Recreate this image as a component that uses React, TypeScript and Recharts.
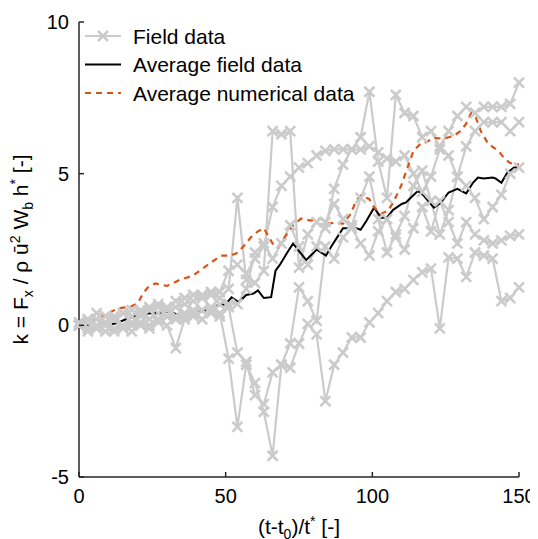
import { LineChart, Line, XAxis, YAxis } from 'recharts';

const FONT = '"Liberation Sans", Arial, sans-serif';
const AXIS = '#262626';
const GREY = '#cbcbcb';
const ORANGE = '#d95319';

// field measurements, sampled every 3 time units
const timeGrid = [
  0, 3, 6, 9, 12, 15, 18, 21, 24, 27, 30, 33, 36, 39, 42, 45, 48, 51, 54, 57, 60,
  63, 66, 69, 72, 75, 78, 81, 84, 87, 90, 93, 96, 99, 102, 105, 108, 111, 114, 117, 120,
  123, 126, 129, 132, 135, 138, 141, 144, 147, 150,
];
const fieldA = [
  0.0, 0.1, 0.2, 0.1, 0.3, 0.4, 0.3, 0.5, 0.5, 0.6, 0.5, 0.6, 0.7, 0.8, 0.9, 1.0, 0.9, 1.2, 4.2, 1.5, 1.4,
  1.8, 6.4, 6.3, 6.4, 1.9, 3.0, 3.4, 3.2, 4.5, 5.3, 5.8, 6.2, 7.7, 5.4, 4.2, 7.6, 7.0, 6.9, 6.2, 6.4,
  5.9, 6.4, 6.9, 7.2, 7.0, 7.2, 7.2, 7.2, 7.3, 8.0,
];
const fieldB = [
  0.1, 0.2, 0.4, 0.3, 0.2, 0.4, 0.5, 0.4, 0.6, 0.7, 0.6, 0.8, 0.9, 1.0, 1.0, 1.1, 1.1, 1.8, 2.0, 1.7, 2.2,
  2.6, 3.9, 4.6, 4.9, 5.2, 5.35, 5.6, 5.75, 5.8, 5.8, 5.8, 5.8, 5.9, 5.7, 5.5, 5.4, 5.6, 5.0, 4.4, 4.9,
  5.8, 5.6, 4.9, 5.9, 6.4, 6.7, 6.7, 6.7, 6.4, 6.7,
];
const fieldC = [
  0.0, -0.1, 0.0, 0.1, 0.2, 0.0, 0.1, 0.3, 0.2, 0.4, 0.3, 0.3, 0.4, 0.5, 0.5, 0.6, 0.7, 0.7, 0.7, 1.2, 2.4,
  2.7, 2.2, 2.7, 3.3, 2.6, 2.0, 2.6, 3.4, 4.0, 3.5, 3.3, 4.2, 4.9, 3.5, 2.4, 3.0, 3.6, 4.6, 5.1, 4.1,
  3.0, 3.8, 4.9, 4.6, 4.2, 3.5, 3.9, 4.3, 5.0, 5.2,
];
const fieldD = [
  0.0, -0.2, -0.1, 0.0, -0.2, -0.1, 0.0, 0.1, 0.0, 0.2, 0.3, 0.2, 0.3, 0.4, 0.5, 0.5, 0.4, -1.1, -3.35, -1.3, -1.9,
  -2.85, -4.3, -1.3, -0.6, 1.25, 0.8, 0.15, 2.6, 2.2, 2.9, 3.2, 2.7, 2.3, 3.1, 3.5, 2.9, 2.5, 3.2, 3.9, 3.1,
  4.1, 3.4, 2.7, 3.4, 3.0, 2.8, 2.7, 2.8, 2.95, 3.0,
];
const fieldE = [
  0.0, 0.1, -0.1, -0.2, -0.1, 0.0, -0.2, 0.0, -0.1, 0.1, 0.0, -0.75, 0.2, 0.3, 0.2, 0.4, 0.3, 0.6, -0.9, -1.2, -2.3,
  -2.6, -1.55, -1.3, -1.4, -0.6, 0.05, -0.3, -2.5, -1.3, -0.9, -0.4, -0.4, 0.1, 0.4, 0.8, 1.1, 1.2, 1.5, 1.75, 1.87,
  -0.1, 2.24, 2.2, 1.6, 2.4, 2.3, 2.2, 0.8, 0.9, 1.25,
];

// average of the field data
const avgTime = [
  0, 3, 6, 9, 12, 14, 16, 19, 22, 25, 28, 31, 34, 36, 38, 40, 43, 45, 48, 50, 52, 54.5, 57, 59.5, 61, 63, 65.5,
  67, 68.5, 71, 73, 75, 77.4, 79, 81, 82.5, 84.2, 86, 88, 90, 92, 94, 96, 98, 100.6, 103, 105, 107, 110,
  111.5, 113, 115.5, 117.3, 119, 121, 123.4, 126, 129, 132, 134.3, 136, 138, 141, 142, 144, 146, 148.3, 150,
];
const avgField = [
  0.07, 0.02, 0, 0, 0.05, 0.12, 0.2, 0.3, 0.38, 0.4, 0.42, 0.46, 0.33, 0.32, 0.4, 0.42, 0.48, 0.6, 0.66, 0.7, 0.92, 0.76, 1.0, 1.05, 1.15, 0.9, 0.93,
  1.8, 2.0, 2.4, 2.7, 2.45, 2.15, 2.3, 2.5, 2.4, 2.3, 2.6, 2.9, 3.2, 3.2, 3.22, 3.15, 3.45, 3.88, 3.55, 3.55, 3.8, 4.0,
  4.05, 4.2, 4.43, 4.3, 4.1, 3.88, 4.05, 4.38, 4.5, 4.35, 4.7, 4.87, 4.84, 4.87, 4.84, 4.7, 5.03, 5.2, 5.2,
];

// average of the numerical runs
const numTime = [
  0, 4, 8.5, 13.3, 17.7, 20, 21.8, 23.5, 26, 30, 34.4, 38.9, 42, 45, 48.4, 51.8, 54.2, 56, 58.6, 61, 63, 66, 67.8,
  71, 73, 75.7, 79, 82.5, 85, 87, 90, 92.7, 94.4, 96, 98.9, 100.6, 103, 105.4, 107.4, 109.8, 112, 114, 116.6,
  117.6, 121, 124.4, 127.8, 130, 132, 133.7, 135.3, 137, 139.4, 141.5, 143, 145, 147, 150,
];
const numData = [
  0.07, 0.1, 0.33, 0.56, 0.62, 0.72, 1.05, 1.25, 1.38, 1.3, 1.5, 1.64, 1.86, 2.07, 2.3, 2.3, 2.4, 2.6, 2.9, 3.1, 3.2, 2.7, 2.57,
  3.03, 3.3, 3.52, 3.45, 3.52, 3.35, 3.38, 3.35, 3.68, 4.1, 4.27, 4.17, 3.88, 3.68, 3.78, 4.1, 4.6, 5.2, 5.75, 6.0,
  6.0, 6.18, 6.15, 6.25, 6.4, 6.65, 7.0, 6.85, 6.4, 6.0, 5.85, 5.75, 5.5, 5.35, 5.3,
];

const xTicks = [0, 50, 100, 150];
const yTicks = [-5, 0, 5, 10];
const fieldKeys = ['a', 'b', 'c', 'd', 'e'];

const fieldTable = timeGrid.map((t, i) => ({
  t,
  a: fieldA[i],
  b: fieldB[i],
  c: fieldC[i],
  d: fieldD[i],
  e: fieldE[i],
}));
const avgTable = avgTime.map((t, i) => ({ t, k: avgField[i] }));
const numTable = numTime.map((t, i) => ({ t, k: numData[i] }));

const W = 530;
const H = 531;

const Cross = (props: any) => {
  const { cx, cy, index } = props;
  if (cx == null || cy == null) return <g key={index} />;
  const s = 5;
  return (
    <path
      key={index}
      d={`M${cx - s},${cy - s}L${cx + s},${cy + s}M${cx - s},${cy + s}L${cx + s},${cy - s}`}
      stroke={GREY}
      strokeWidth={2.6}
    />
  );
};

const BottomTick = ({ x, y, payload }: any) => (
  <g>
    <line x1={x} y1={y} x2={x} y2={y - 5} stroke={AXIS} strokeWidth={1.5} />
    <text x={x} y={y + 26} textAnchor="middle" fontSize={20} fontFamily={FONT} fill="#000">
      {payload.value}
    </text>
  </g>
);

const TopTick = ({ x, y }: any) => (
  <line x1={x} y1={y} x2={x} y2={y + 5} stroke={AXIS} strokeWidth={1.5} />
);

const LeftTick = ({ x, y, payload }: any) => (
  <g>
    <line x1={x} y1={y} x2={x + 5} y2={y} stroke={AXIS} strokeWidth={1.5} />
    <text x={x - 10} y={y + 7} textAnchor="end" fontSize={20} fontFamily={FONT} fill="#000">
      {payload.value}
    </text>
  </g>
);

const RightTick = ({ x, y }: any) => (
  <line x1={x} y1={y} x2={x - 5} y2={y} stroke={AXIS} strokeWidth={1.5} />
);

const YTitle = ({ viewBox }: any) => {
  const cx = viewBox.x + 20;
  const cy = viewBox.y + viewBox.height / 2;
  return (
    <text
      x={cx}
      y={cy}
      transform={`rotate(-90 ${cx} ${cy})`}
      textAnchor="middle"
      fontSize={21}
      fontFamily={FONT}
      fill="#000"
    >
      k = F
      <tspan fontSize={14} dy={5}>x</tspan>
      <tspan dy={-5}> / ρ ū</tspan>
      <tspan fontSize={14} dy={-8}>2</tspan>
      <tspan dy={8}> W</tspan>
      <tspan fontSize={14} dy={5}>b</tspan>
      <tspan dy={-5}> h</tspan>
      <tspan fontSize={14} dy={-8}>*</tspan>
      <tspan dy={8}> [-]</tspan>
    </text>
  );
};

const XTitle = ({ viewBox }: any) => {
  const cx = viewBox.x + viewBox.width / 2;
  const cy = viewBox.y + 57;
  return (
    <text x={cx} y={cy} textAnchor="middle" fontSize={21} fontFamily={FONT} fill="#000">
      (t-t
      <tspan fontSize={14} dy={5}>0</tspan>
      <tspan dy={-5}>)/t</tspan>
      <tspan fontSize={14} dy={-8}>*</tspan>
      <tspan dy={8}> [-]</tspan>
    </text>
  );
};

function LegendBox() {
  const rows = [
    { label: 'Field data', color: GREY, dash: undefined, cross: true },
    { label: 'Average field data', color: '#000', dash: undefined, cross: false },
    { label: 'Average numerical data', color: ORANGE, dash: '6 5', cross: false },
  ];
  return (
    <svg width={W} height={H} style={{ position: 'absolute', left: 0, top: 0, pointerEvents: 'none' }}>
      {rows.map((r, i) => {
        const y = 28 + i * 28.5;
        return (
          <g key={r.label}>
            <line x1={77} y1={y} x2={113} y2={y} stroke={r.color} strokeWidth={2} strokeDasharray={r.dash} />
            {r.cross && (
              <path d={`M${90},${y - 5}L${100},${y + 5}M${90},${y + 5}L${100},${y - 5}`} stroke={GREY} strokeWidth={2.6} />
            )}
            <text x={125} y={y + 7.5} fontSize={21} fontFamily={FONT} fill="#000">
              {r.label}
            </text>
          </g>
        );
      })}
    </svg>
  );
}

export default function App() {
  return (
    <div style={{ position: 'relative', width: W, height: H }}>
      <LineChart width={W} height={H} margin={{ top: 14, right: 19, bottom: 0, left: 0 }} style={{ overflow: 'visible' }}>
        <XAxis
          xAxisId={0}
          dataKey="t"
          type="number"
          domain={[0, 150]}
          ticks={xTicks}
          interval={0}
          height={62}
          tickSize={0}
          tickMargin={0}
          tickLine={false}
          tick={<BottomTick />}
          axisLine={{ stroke: AXIS, strokeWidth: 1.5 }}
          label={<XTitle />}
        />
        <XAxis
          xAxisId="top"
          orientation="top"
          dataKey="t"
          type="number"
          domain={[0, 150]}
          ticks={xTicks}
          interval={0}
          height={0}
          tickSize={0}
          tickMargin={0}
          tickLine={false}
          tick={<TopTick />}
          axisLine={{ stroke: AXIS, strokeWidth: 1.5 }}
        />
        <YAxis
          yAxisId={0}
          type="number"
          domain={[-5, 10]}
          ticks={yTicks}
          interval={0}
          width={71}
          tickSize={0}
          tickMargin={0}
          tickLine={false}
          tick={<LeftTick />}
          axisLine={{ stroke: AXIS, strokeWidth: 1.5 }}
          label={<YTitle />}
        />
        <YAxis
          yAxisId="right"
          orientation="right"
          type="number"
          domain={[-5, 10]}
          ticks={yTicks}
          interval={0}
          width={0}
          tickSize={0}
          tickMargin={0}
          tickLine={false}
          tick={<RightTick />}
          axisLine={{ stroke: AXIS, strokeWidth: 1.5 }}
        />
        {fieldKeys.map((key) => (
          <Line
            key={key}
            data={fieldTable}
            dataKey={key}
            type="linear"
            stroke={GREY}
            strokeWidth={2.2}
            dot={<Cross />}
            activeDot={false}
            isAnimationActive={false}
          />
        ))}
        <Line
          data={avgTable}
          dataKey="k"
          type="linear"
          stroke="#000"
          strokeWidth={2}
          dot={false}
          activeDot={false}
          isAnimationActive={false}
        />
        <Line
          data={numTable}
          dataKey="k"
          type="linear"
          stroke={ORANGE}
          strokeWidth={2.2}
          strokeDasharray="6 5"
          dot={false}
          activeDot={false}
          isAnimationActive={false}
        />
      </LineChart>
      <LegendBox />
    </div>
  );
}
